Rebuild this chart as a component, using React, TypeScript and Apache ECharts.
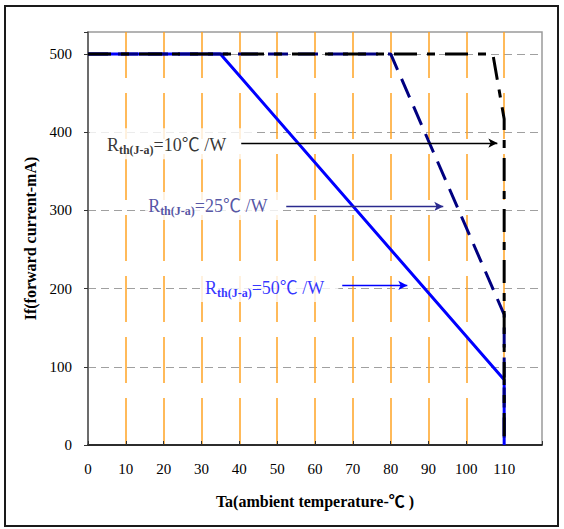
import React, { useEffect, useRef } from "react";
import * as echarts from "echarts";

// Derating curves: ambient temperature (°C) vs forward current (mA)
const tempR10 = [0, 107, 110, 110];
const currentR10 = [500, 500, 416.7, 0];
const tempR25 = [0, 80, 110, 110];
const currentR25 = [500, 500, 166.7, 0];
const tempR50 = [0, 35, 110, 110];
const currentR50 = [500, 500, 83.3, 0];

// Annotations (thermal resistance labels with arrows), in data units
const rthValues = ["10", "25", "50"];
const rthColors = ["#000000", "#2a2a8e", "#0000ff"];
const labelAnchorX = [0.5, 15.1, 29.6];
const labelAnchorY = [385, 305.6, 200.8];
const labelPadding = [
  [6, 28, 3, 17],
  [3, 15, 3, 3],
  [3, 14, 3, 5],
];
const arrowFromX = [40.5, 52.4, 67.2];
const arrowToX = [108.2, 93.9, 84.4];
const arrowY = [386, 305, 204];

const xMin = 0;
const xMax = 120;
const xStep = 10;
const xLastLabel = 110;
const yMin = 0;
const yMax = 528;
const yStep = 100;

const FONT = "'Liberation Serif', 'Times New Roman', 'Noto Sans CJK SC', serif";

const zip = (xs: number[], ys: number[]) => xs.map((x, i) => [x, ys[i]]);

export default function App() {
  const ref = useRef<HTMLDivElement>(null);
  useEffect(() => {
    if (!ref.current) return;
    const chart = echarts.init(ref.current, undefined, { renderer: "svg" });

    const labelSeries = rthValues.map((v, i) => ({
      type: "scatter",
      z: 2,
      silent: true,
      symbolSize: 0,
      data: [[labelAnchorX[i], labelAnchorY[i]]],
      label: {
        show: true,
        position: "right",
        distance: 0,
        backgroundColor: "#ffffff",
        padding: labelPadding[i],
        formatter: `{r|R}{s|th(J-a)}{r|=${v}℃ /W}`,
        rich: {
          r: { fontSize: 18, fontFamily: FONT, color: rthColors[i], lineHeight: 22 },
          s: {
            fontSize: 12,
            fontWeight: "bold",
            fontFamily: FONT,
            color: rthColors[i],
            lineHeight: 14,
            verticalAlign: "bottom",
          },
        },
      },
    }));

    const option: any = {
      animation: false,
      backgroundColor: "#ffffff",
      graphic: [
        {
          type: "rect",
          shape: { x: 5, y: 6, width: 553, height: 520 },
          style: { fill: "none", stroke: "#1a1a1a", lineWidth: 2 },
          silent: true,
        },
      ],
      grid: {
        left: 88,
        top: 32,
        right: 22,
        bottom: 84,
        show: true,
        borderColor: "#9a9a9a",
        borderWidth: 1.5,
        backgroundColor: "transparent",
      },
      xAxis: {
        type: "value",
        min: xMin,
        max: xMax,
        interval: xStep,
        name: "Ta(ambient temperature-℃ )",
        nameLocation: "middle",
        nameGap: 48,
        nameTextStyle: { fontFamily: FONT, fontSize: 16, fontWeight: "bold", color: "#000" },
        axisLine: { show: true, lineStyle: { color: "#000", width: 1.5 } },
        axisTick: { show: true, inside: true, length: 4, lineStyle: { color: "#333" } },
        axisLabel: {
          fontFamily: FONT,
          fontSize: 15,
          color: "#000",
          margin: 16,
          formatter: (v: number) => (v <= xLastLabel ? String(v) : ""),
        },
        splitLine: {
          show: true,
          showMinLine: false,
          showMaxLine: false,
          lineStyle: { color: "#ffa424", width: 1.5, type: [46, 15] },
        },
      },
      yAxis: {
        type: "value",
        min: yMin,
        max: yMax,
        interval: yStep,
        name: "If(forward current-mA)",
        nameLocation: "middle",
        nameGap: 50,
        nameRotate: 90,
        nameTextStyle: { fontFamily: FONT, fontSize: 16, fontWeight: "bold", color: "#000" },
        axisLine: { show: true, lineStyle: { color: "#555", width: 1.5 } },
        axisTick: { show: true, inside: false, length: 4, lineStyle: { color: "#333" } },
        axisLabel: {
          fontFamily: FONT,
          fontSize: 15,
          color: "#000",
          margin: 16,
          formatter: (v: number) => (v % yStep === 0 ? String(v) : ""),
        },
        splitLine: {
          show: true,
          showMinLine: false,
          showMaxLine: false,
          lineStyle: { color: "#a0a0a0", width: 1.2, type: [8, 5] },
        },
      },
      series: [
        ...labelSeries,
        {
          type: "line",
          name: "50",
          z: 3,
          symbol: "none",
          data: zip(tempR50, currentR50),
          lineStyle: { color: "#0000ff", width: 3, type: "solid" },
        },
        {
          type: "line",
          name: "25",
          z: 4,
          symbol: "none",
          data: zip(tempR25, currentR25),
          lineStyle: { color: "#000080", width: 3, type: [20, 10] },
        },
        {
          type: "line",
          name: "10",
          z: 5,
          symbol: "none",
          data: zip(tempR10, currentR10),
          lineStyle: { color: "#000000", width: 3, type: [23, 10, 8, 10] },
        },
        {
          type: "line",
          name: "arrows",
          z: 6,
          data: [],
          markLine: {
            silent: true,
            symbol: ["none", "arrow"],
            symbolSize: [7, 9],
            label: { show: false },
            data: rthValues.map((_, i) => [
              { coord: [arrowFromX[i], arrowY[i]], lineStyle: { color: rthColors[i], width: 1.3, type: "solid" } },
              { coord: [arrowToX[i], arrowY[i]] },
            ]),
          },
        },
      ],
    };
    chart.setOption(option);
    return () => chart.dispose();
  }, []);

  return (
    <div
      ref={ref}
      style={{ position: "fixed", left: 0, top: 0, width: 564, height: 529, background: "#fff" }}
    />
  );
}
